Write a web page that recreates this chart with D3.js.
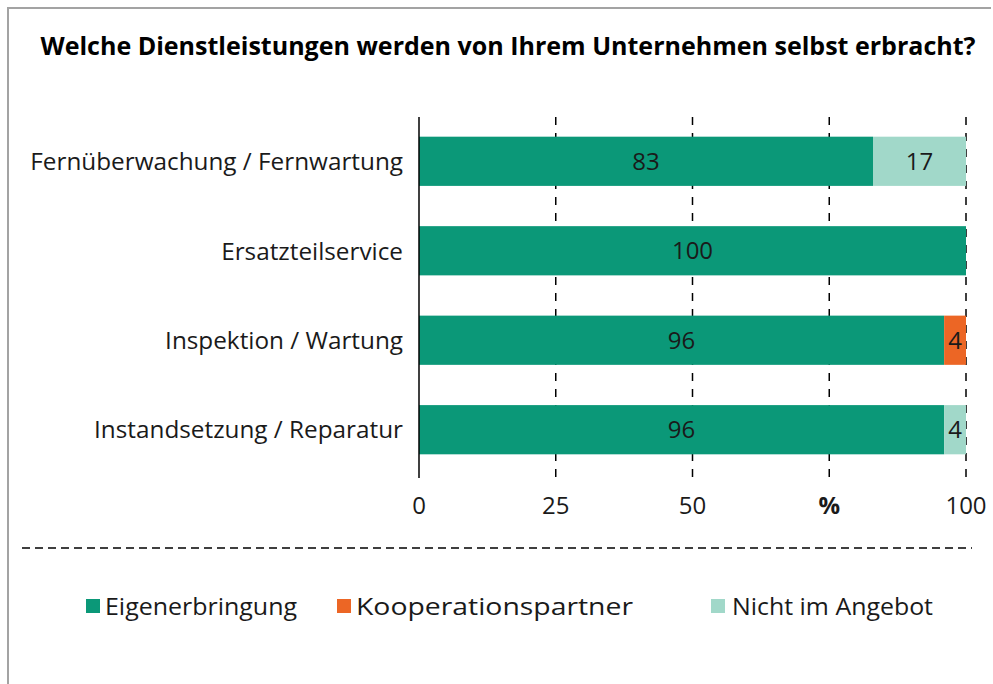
<!DOCTYPE html>
<html>
<head>
<meta charset="utf-8">
<script src="https://cdn.jsdelivr.net/npm/d3@7"></script>
<style>
  body { margin: 0; background: #fff; }
  text { font-family: "Open Sans", "Noto Sans", sans-serif; }
</style>
</head>
<body>
<div id="graphic"></div>
<script>
var categories = ["Fernüberwachung / Fernwartung", "Ersatzteilservice", "Inspektion / Wartung", "Instandsetzung / Reparatur"];
var seriesNames = ["Eigenerbringung", "Kooperationspartner", "Nicht im Angebot"];
var eigen = [83, 100, 96, 96];
var koop = [0, 0, 4, 0];
var nicht = [17, 0, 0, 4];
var tickValues = [0, 25, 50, 75, 100];
var tickLabels = ["0", "25", "50", "%", "100"];
var colors = ["#0b9878", "#ec6625", "#a1d8c9"];

var width = 993, height = 684;
var margin = { top: 117, left: 419, right: 27, bottom: 206 };

var svg = d3.select("#graphic").append("svg")
    .attr("width", width)
    .attr("height", height);

// frame (top + left only)
svg.append("path")
    .attr("d", "M8,684 L8,8 L991,8")
    .attr("fill", "none")
    .attr("stroke", "#a3a3a3")
    .attr("stroke-width", 2);

svg.append("text")
    .attr("x", 508)
    .attr("y", 55)
    .attr("text-anchor", "middle")
    .attr("font-weight", "bold")
    .attr("font-size", "24.5px")
    .attr("textLength", 935)
    .attr("lengthAdjust", "spacingAndGlyphs")
    .attr("fill", "#000")
    .text("Welche Dienstleistungen werden von Ihrem Unternehmen selbst erbracht?");

var x = d3.scaleLinear().domain([0, 100]).range([margin.left, width - margin.right]);
var y = d3.scaleBand().domain(categories).range([117, 474]).paddingInner(0.45).paddingOuter(0.22);

var rows = categories.map(function (c, i) {
    return { cat: c, values: [eigen[i], koop[i], nicht[i]] };
});

// grid lines
svg.append("g").selectAll("line")
    .data(tickValues.slice(1))
    .join("line")
    .attr("x1", function (d) { return x(d); })
    .attr("x2", function (d) { return x(d); })
    .attr("y1", 117)
    .attr("y2", 478)
    .attr("stroke", "#000")
    .attr("stroke-width", 1.5)
    .attr("stroke-dasharray", "8,8");

// bars
var rowG = svg.append("g").selectAll("g")
    .data(rows)
    .join("g");

rowG.each(function (r) {
    var g = d3.select(this);
    var acc = 0;
    r.values.forEach(function (v, k) {
        if (v <= 0) return;
        var x0 = acc;
        acc += v;
        g.append("rect")
            .attr("x", x(x0))
            .attr("y", y(r.cat))
            .attr("width", x(acc) - x(x0))
            .attr("height", y.bandwidth())
            .attr("fill", colors[k]);
        g.append("text")
            .attr("x", (x(x0) + x(acc)) / 2)
            .attr("y", y(r.cat) + y.bandwidth() / 2)
            .attr("dy", "0.36em")
            .attr("text-anchor", "middle")
            .attr("font-size", "24px")
            .attr("fill", "#1a1a1a")
            .text(v);
    });
});

// axis line at 0
svg.append("line")
    .attr("x1", x(0)).attr("x2", x(0))
    .attr("y1", 117).attr("y2", 478)
    .attr("stroke", "#000")
    .attr("stroke-width", 1.5);

// category labels
svg.append("g").selectAll("text")
    .data(categories)
    .join("text")
    .attr("x", 403)
    .attr("y", function (d) { return y(d) + y.bandwidth() / 2; })
    .attr("dy", "0.36em")
    .attr("text-anchor", "end")
    .attr("font-size", "24.3px")
    .attr("fill", "#1a1a1a")
    .text(function (d) { return d; });

// tick labels
svg.append("g").selectAll("text")
    .data(tickValues)
    .join("text")
    .attr("x", function (d) { return x(d); })
    .attr("y", 514)
    .attr("text-anchor", "middle")
    .attr("font-size", "24px")
    .attr("font-weight", function (d, i) { return tickLabels[i] === "%" ? "bold" : "normal"; })
    .attr("fill", "#1a1a1a")
    .text(function (d, i) { return tickLabels[i]; });

// separator
svg.append("line")
    .attr("x1", 22).attr("x2", 972)
    .attr("y1", 548).attr("y2", 548)
    .attr("stroke", "#000")
    .attr("stroke-width", 1.3)
    .attr("stroke-dasharray", "8,5");

// legend
var legendX = [86, 337, 711];
var legendW = [192, 277, 201];
var leg = svg.append("g").selectAll("g")
    .data(seriesNames)
    .join("g")
    .attr("transform", function (d, i) { return "translate(" + legendX[i] + ",599)"; });
leg.append("rect")
    .attr("width", 14).attr("height", 14)
    .attr("fill", function (d, i) { return colors[i]; });
leg.append("text")
    .attr("x", function (d, i) { return i === 2 ? 21 : 19; })
    .attr("y", 7)
    .attr("dy", "0.36em")
    .attr("font-size", "24.5px")
    .attr("textLength", function (d, i) { return legendW[i]; })
    .attr("lengthAdjust", "spacingAndGlyphs")
    .attr("fill", "#1a1a1a")
    .text(function (d) { return d; });
</script>
</body>
</html>
